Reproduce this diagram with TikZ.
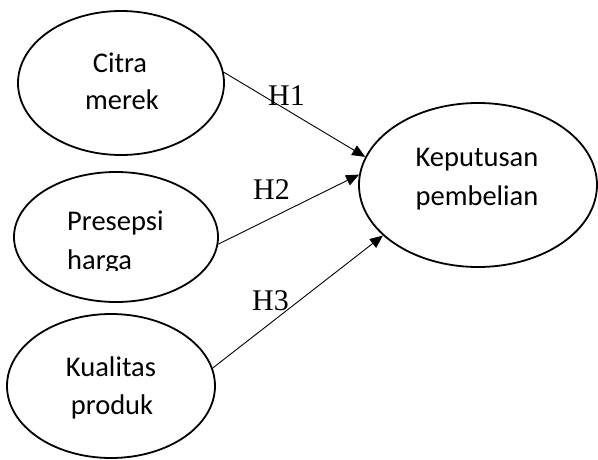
\documentclass[tikz,border=0pt]{standalone}
\usepackage{fontspec}
\setmainfont{Liberation Serif}
\newfontfamily\calibrifont{Carlito}
\usetikzlibrary{shapes.geometric,arrows.meta}
\begin{document}
\begin{tikzpicture}[x=1pt,y=-1pt,
  var/.style={draw,ellipse,line width=1.8pt,inner sep=0pt},
  lbl/.style={font=\calibrifont\fontsize{28.5}{34}\selectfont,inner sep=0pt},
  hyp/.style={font=\fontsize{30}{34}\selectfont,inner sep=0pt,anchor=base west},
  arr/.style={line width=0.9pt,-{Triangle[length=13pt,width=11pt]}}]
\useasboundingbox (0,0) rectangle (598,460);
% ellipses
\node[var,minimum width=206pt,minimum height=144pt] (c1) at (121,83) {};
\node[var,minimum width=204pt,minimum height=130pt] (c2) at (116,237) {};
\node[var,minimum width=208pt,minimum height=144pt] (c3) at (111,386) {};
\node[var,minimum width=238pt,minimum height=164pt] (k) at (478,185) {};
% texts
\node[lbl,anchor=base] (t1a) at (120,73) {Citra};
\node[lbl,anchor=base] (t1b) at (122,110) {merek};
\node[lbl,anchor=base west] (t2a) at (67,230) {Presepsi};
\begin{scope}
\clip (0,0) rectangle (598,270);
\node[lbl,anchor=base west] (t2b) at (67,269) {harga};
\end{scope}
\node[lbl,anchor=base] (t3a) at (111,376) {Kualitas};
\node[lbl,anchor=base] (t3b) at (112,414) {produk};
\node[lbl,anchor=base] (t4a) at (477,166) {Keputusan};
\node[lbl,anchor=base] (t4b) at (477,205) {pembelian};
% hypotheses
\node[hyp] (h1) at (268,106) {H1};
\node[hyp] (h2) at (253,200) {H2};
\node[hyp] (h3) at (252,310) {H3};
% arrows
\draw[arr] (c1.6) -- (k.166);
\draw[arr] (c2.-4.5) -- (k.175);
\draw[arr] (c3.10.5) -- (k.208);
\end{tikzpicture}
\end{document}
